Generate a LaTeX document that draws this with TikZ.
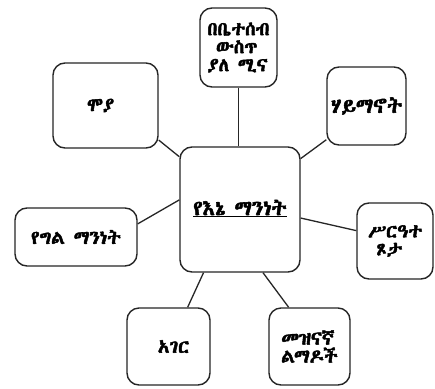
\documentclass[tikz,border=0pt]{standalone}
\usepackage{fontspec}
\IfFontExistsTF{Abyssinica SIL}{\newfontfamily\ethfont[FakeBold=2.5]{Abyssinica SIL}}{%
 \IfFontExistsTF{FreeSerif}{\newfontfamily\ethfont[FakeBold=2.5]{FreeSerif}}{%
  \IfFontExistsTF{Noto Sans Ethiopic}{\newfontfamily\ethfont[FakeBold=2.5]{Noto Sans Ethiopic}}{%
   \newfontfamily\ethfont[FakeBold=2.5]{DejaVu Sans}}}}
\begin{document}
\begin{tikzpicture}[x=1pt,y=-1pt,
  box/.style={draw=black!85, line width=1.4pt, rounded corners=12pt, inner sep=0pt,
    align=left, font=\ethfont\fontsize{19}{18}\selectfont},
  link/.style={draw=black!85, line width=1.3pt}]
\useasboundingbox[fill=white] (0,0) rectangle (435,388);
\node[box, minimum width=120pt, minimum height=125pt, font=\ethfont\fontsize{21}{20}\selectfont] (c) at (240,209.5)
  {\raisebox{4pt}{\underline{የእኔ\hspace{9pt}ማንነት}}};
\node[box, minimum width=77pt, minimum height=79pt] (t) at (238.5,47.5)
  {በቤተሰብ\\\ ውስጥ\\ያለ ሚና};
\node[box, minimum width=105pt, minimum height=85pt] (ul) at (105.5,105.5)
  {\raisebox{-3pt}{ሞያ}\hspace*{10pt}};
\node[box, minimum width=79pt, minimum height=78pt, font=\ethfont\fontsize{21}{20}\selectfont] (ur) at (366.5,106) {ሃይማኖት};
\node[box, minimum width=122pt, minimum height=58pt] (l) at (76,237) {የግል ማንነት};
\node[box, minimum width=76pt, minimum height=76pt] (r) at (395,241)
  {ሥርዓተ\\\ ጾታ};
\node[box, minimum width=83pt, minimum height=77pt] (bl) at (168.5,346.5)
  {\hspace*{10pt}አገር};
\node[box, minimum width=81pt, minimum height=77pt] (br) at (309.5,346.5)
  {መዝናኛ\\ልማዶች};
\draw[link] (t.south) -- (t.south |- c.north);
\draw[link] (ul.-33.3) -- (c.139.4);
\draw[link] (ur.220.7) -- (c.40.6);
\draw[link] (l.12) -- (c.171);
\draw[link] (r.165.3) -- (c.-8.1);
\draw[link] (bl.64.3) -- (c.240.75);
\draw[link] (br.118) -- (c.-70.6);
\end{tikzpicture}
\end{document}
